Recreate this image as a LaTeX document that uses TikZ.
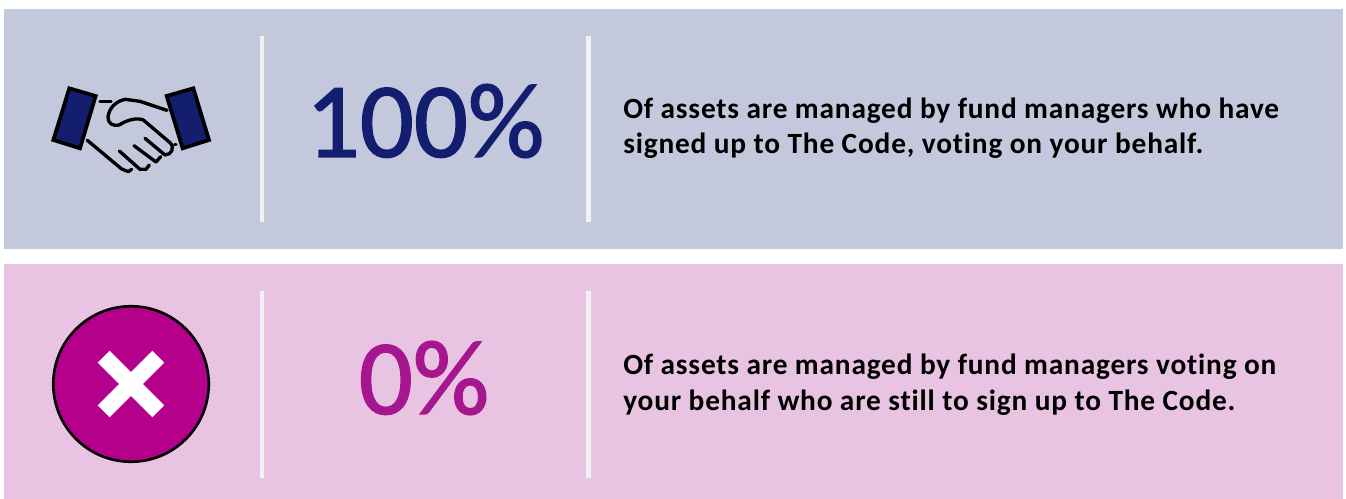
\documentclass[tikz,border=0pt]{standalone}
\usepackage{fontspec}
\setmainfont{Carlito}
\newfontfamily\bodyfont[LetterSpace=2.8,Ligatures=NoCommon]{Carlito}
\newfontfamily\bigfont[FakeBold=1.4]{Carlito}
\definecolor{panelblue}{HTML}{C4C8DC}
\definecolor{panelpink}{HTML}{E9C3E2}
\definecolor{navy}{HTML}{141E6E}
\definecolor{magent}{HTML}{A6168F}
\definecolor{crossfill}{HTML}{B5008B}
\definecolor{rulewhite}{HTML}{F2F2F2}
\tikzset{
  divider/.style={draw=rulewhite,line width=3.2pt},
  bigblue/.style={inner sep=0pt,text=navy,font=\bigfont\fontsize{80}{80}\selectfont},
  bigmag/.style={inner sep=0pt,text=magent,font=\bigfont\fontsize{80}{80}\selectfont},
  bodytext/.style={inner sep=0pt,anchor=base west,font=\bodyfont\bfseries\fontsize{22}{22}\selectfont},
  ink/.style={draw=black,line width=2.5pt,line cap=round,line join=round},
  cuff/.style={draw=black,fill=navy,line width=2.8pt,line join=miter}
}
\begin{document}
\begin{tikzpicture}[x=0.75pt,y=-0.75pt]
\useasboundingbox (0,0) rectangle (1346,499);
\fill[white] (0,0) rectangle (1346,499);
\fill[panelblue] (4,9) rectangle (1343,249);
\fill[panelpink] (4,264) rectangle (1343,499);
\coordinate (d1a) at (262,36); \coordinate (d1b) at (262,222);
\coordinate (d2a) at (588.5,36); \coordinate (d2b) at (588.5,222);
\coordinate (d3a) at (262,291); \coordinate (d3b) at (262,478);
\coordinate (d4a) at (588.5,291); \coordinate (d4b) at (588.5,478);
\draw[divider] (d1a) -- (d1b);
\draw[divider] (d2a) -- (d2b);
\draw[divider] (d3a) -- (d3b);
\draw[divider] (d4a) -- (d4b);
\node[bigblue] (pa) at (425,121) {100\%};
\node[bigmag] (pb) at (424,378) {0\%};
\node[bodytext] (t1) at (623,118.5) {Of assets are managed by fund managers who have};
\node[bodytext] (t2) at (623,153.5) {signed up to The Code, voting on your behalf.};
\node[bodytext] (t3) at (623,374.5) {Of assets are managed by fund managers voting on};
\node[bodytext] (t4) at (623,410.5) {your behalf who are still to sign up to The Code.};
% handshake, in 3x zoom coordinates
\begin{scope}[shift={(30,60)},x=0.25pt,y=-0.25pt]
\draw[cuff] (118,85) -- (197,108) -- (150,265) -- (70,240) -- cycle;
\draw[cuff] (410,108) -- (490,85) -- (537,240) -- (458,265) -- cycle;
\draw[ink] (210,124) -- (243,124);
\draw[ink] (411,151) -- (330,124) -- (285,118) .. controls (255,125) and (238,145) .. (234,170) .. controls (232,190) and (250,200) .. (268,195) .. controls (290,180) and (320,172) .. (340,180) -- (420,248) .. controls (435,262) and (425,285) .. (405,285) -- (345,235);
\draw[ink] (172,241) -- (275,327) -- (295,335) -- (305,328);
\draw[ink] (268,273) -- (330,328) -- (348,328) -- (358,315);
\draw[ink] (312,257) -- (378,306) -- (392,290);
\draw[ink] (434,253) -- (438,253);
\end{scope}
% cross badge
\node[circle,draw=black,fill=crossfill,line width=2pt,minimum size=116.6pt,inner sep=0pt] (badge) at (131,384) {};
\draw[white,line width=12.5pt] ([shift={(-20.5pt,-20.5pt)}]badge.center) -- ([shift={(20.5pt,20.5pt)}]badge.center);
\draw[white,line width=12.5pt] ([shift={(20.5pt,-20.5pt)}]badge.center) -- ([shift={(-20.5pt,20.5pt)}]badge.center);
\end{tikzpicture}
\end{document}
